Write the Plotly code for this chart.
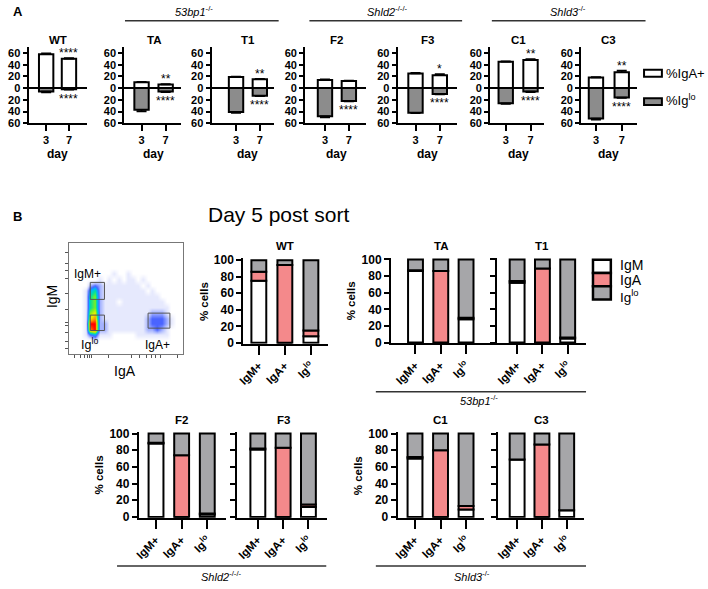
import plotly.graph_objects as go

W, H = 708, 589
FONT = "Liberation Sans, Arial, Helvetica, sans-serif"

# ---------------- Panel A data ----------------
a_clones = ["WT", "TA", "T1", "F2", "F3", "C1", "C3"]
a_day_labels = ["3", "7"]
a_iga_day3 = [58, 10, 19, 14, 25, 45, 18]
a_iga_day7 = [50, 6, 15, 12, 22, 48, 27]
a_iglo_day3 = [6, 37, 41, 48, 42, 26, 52]
a_iglo_day7 = [2, 6, 13, 22, 10, 6, 16]
a_iga_err3 = [1.5, 1, 1, 1, 1, 1, 1]
a_iga_err7 = [1.5, 1, 1, 1, 2, 1.5, 3]
a_iglo_err3 = [1.5, 3, 1.5, 2, 1, 1, 2]
a_iglo_err7 = [1, 1, 1, 1, 1, 1, 1]
a_stars_up = ["****", "**", "**", "", "*", "**", "**"]
a_stars_down = ["****", "****", "****", "****", "****", "****", "****"]
a_yticks = [60, 40, 20, 0, -20, -40, -60]
a_yticklabels = ["60", "40", "20", "0", "20", "40", "60"]

# ---------------- Panel B data ----------------
b_clones = ["WT", "TA", "T1", "F2", "F3", "C1", "C3"]
b_gate_labels = ["IgM+", "IgA+", "Ig<sup>lo</sup>"]
b_igm = [[75, 0, 8], [86, 0, 28], [72, 0, 5], [88, 0, 3], [81, 0, 12], [70, 0, 9], [69, 0, 8]]
b_iga = [[11, 94, 7], [1, 86, 2], [2, 89, 1], [1, 74, 1], [1, 83, 3], [2, 80, 4], [0, 87, 0]]
b_iglo = [[14, 6, 85], [13, 14, 70], [26, 11, 94], [11, 26, 96], [18, 17, 85], [28, 20, 87], [31, 13, 92]]
b_yticks = [0, 20, 40, 60, 80, 100]

# flow-cytometry density (rows top->bottom, 0 = no events, 9 = highest density)
flow_density_rows = [
    "000000000000000000000000",
    "000000000000000000000000",
    "000000000000000000000000",
    "000000000000000000000000",
    "000000000000000000000000",
    "000000000100100000000000",
    "000000101010110100000000",
    "000023211111111010000000",
    "000145211111111101000000",
    "000156211111111111100000",
    "000156211101111111110000",
    "000156211111111111111000",
    "000167211111111112221000",
    "000178211111111123332100",
    "000199221111111123332100",
    "000189221111111122321000",
    "000134111000001111111000",
    "000001000000000000000000",
    "000000000000000000000000",
    "000000000000000000000000",
]

# ---------------- helpers ----------------
def px(x):
    return x / W

def py(y):
    return 1 - y / H

def names(n):
    return ("x", "y", "xaxis", "yaxis") if n == 1 else (f"x{n}", f"y{n}", f"xaxis{n}", f"yaxis{n}")

fig = go.Figure()
layout_axes = {}
annotations = []
shapes = []

def ann(x, y, text, size=11, bold=False, italic=False, angle=0, xanchor="center", yanchor="middle", color="#000000"):
    annotations.append(dict(
        x=px(x), y=py(y), xref="paper", yref="paper", text=text, showarrow=False,
        xanchor=xanchor, yanchor=yanchor, textangle=angle,
        font=dict(family=FONT, size=size, color=color,
                  weight="bold" if bold else "normal",
                  style="italic" if italic else "normal")))

def hline(x0, x1, y, width=1.5, color="#333333"):
    shapes.append(dict(type="line", xref="paper", yref="paper", x0=px(x0), x1=px(x1),
                       y0=py(y), y1=py(y), line=dict(color=color, width=width)))

def box(x0, y0, x1, y1, fill, width=2, color="black"):
    shapes.append(dict(type="rect", xref="paper", yref="paper", x0=px(x0), x1=px(x1),
                       y0=py(y1), y1=py(y0), fillcolor=fill, line=dict(color=color, width=width)))

GRAY_A = "#8c8c8c"
GRAY_B = "#a6a6a9"
RED_B = "#f4898b"

# ---------------- Panel A ----------------
A_GEOM = [(22.7, 40.5, 63.5, 82), (119.3, 136.7, 161, 176.7), (207.3, 232, 256, 270.7),
          (301.7, 321.7, 345.8, 363), (395, 413, 437.5, 455), (488.3, 504, 529, 543),
          (580, 595, 621, 636.7)]
A_TOP, A_BOT = 42.9, 120.5

n = 0
for k, clone in enumerate(a_clones):
    n += 1
    xa, ya, xk, yk = names(n)
    x0, c3, c7, x1 = A_GEOM[k]
    sp = c7 - c3
    bw = 14.5 / sp
    fig.add_trace(go.Bar(
        x=[0, 1], y=[a_iga_day3[k], a_iga_day7[k]], width=bw, xaxis=xa, yaxis=ya,
        marker=dict(color="white", line=dict(color="black", width=2)),
        error_y=dict(type="data", symmetric=False, array=[a_iga_err3[k], a_iga_err7[k]],
                     arrayminus=[0, 0], color="black", thickness=1.5, width=5),
        showlegend=False, hoverinfo="skip"))
    fig.add_trace(go.Bar(
        x=[0, 1], y=[-a_iglo_day3[k], -a_iglo_day7[k]], width=bw, xaxis=xa, yaxis=ya,
        marker=dict(color=GRAY_A, line=dict(color="black", width=2)),
        error_y=dict(type="data", symmetric=False, array=[0, 0],
                     arrayminus=[a_iglo_err3[k], a_iglo_err7[k]], color="black", thickness=1.5, width=5),
        showlegend=False, hoverinfo="skip"))
    layout_axes[xk] = dict(
        domain=[px(x0), px(x1)], range=[-(c3 - x0) / sp, 1 + (x1 - c7) / sp], anchor=ya,
        showline=True, linewidth=2, linecolor="black", ticks="outside", ticklen=6, tickwidth=2,
        tickcolor="black", tickvals=[0, 1], ticktext=a_day_labels, showgrid=False, zeroline=False,
        tickfont=dict(family=FONT, size=11, weight="bold", color="black"), fixedrange=True)
    layout_axes[yk] = dict(
        domain=[py(A_BOT), py(A_TOP)], range=[-60, 70], anchor=xa,
        showline=True, linewidth=2, linecolor="black", ticks="outside", ticklen=4, tickwidth=2,
        tickcolor="black", tickvals=a_yticks, ticktext=a_yticklabels, showgrid=False,
        zeroline=True, zerolinewidth=2, zerolinecolor="black",
        tickfont=dict(family=FONT, size=11, weight="bold", color="black"), fixedrange=True)
    mid = (c3 + c7) / 2
    ann(mid, 36, clone, size=11.5, bold=True)
    ann(mid, 152, "day", size=12, bold=True)
    # significance stars, placed in data coordinates
    if a_stars_up[k]:
        annotations.append(dict(x=1, y=a_iga_day7[k] + a_iga_err7[k] + 8, xref=xa, yref=ya,
                                text=a_stars_up[k], showarrow=False,
                                font=dict(family=FONT, size=12, color="#000000")))
    annotations.append(dict(x=1, y=-a_iglo_day7[k] - a_iglo_err7[k] - 15, xref=xa, yref=ya,
                            text=a_stars_down[k], showarrow=False,
                            font=dict(family=FONT, size=12, color="#000000")))

# panel A group headers
hline(120, 275, 16)
ann(190, 6, "<i>53bp1</i><sup>-/-</sup>", size=11)
hline(306, 460, 16)
ann(385, 6, "<i>Shld2</i><sup>-/-/-</sup>", size=11)
hline(490, 645, 16)
ann(567, 6, "<i>Shld3</i><sup>-/-</sup>", size=11)

# panel A legend
box(643.5, 66, 661.5, 73, "white", width=2)
ann(664, 69.5, "%IgA+", size=13, xanchor="left")
box(643.5, 95, 661.5, 102, GRAY_A, width=2)
ann(664, 97, "%Ig<sup>lo</sup>", size=13, xanchor="left")

ann(5, 7, "A", size=13, bold=True, xanchor="left")
ann(5, 216, "B", size=13, bold=True, xanchor="left")

# ---------------- Panel B: flow plot ----------------
n += 1
xa, ya, xk, yk = names(n)
FX0, FX1, FY0, FY1 = 63.3, 178.5, 243, 356
ncols = len(flow_density_rows[0])
nrows = len(flow_density_rows)
z = [[int(ch) for ch in row] for row in flow_density_rows]
xs = [(j + 0.5) / ncols for j in range(ncols)]
ys = [1 - (i + 0.5) / nrows for i in range(nrows)]
fig.add_trace(go.Heatmap(
    z=z, x=xs, y=ys, xaxis=xa, yaxis=ya, zmin=0, zmax=9, zsmooth="best", showscale=False,
    hoverinfo="skip",
    colorscale=[[0, "#ffffff"], [1 / 9, "#e6e9fd"], [2 / 9, "#a4b2ff"], [3 / 9, "#4a64ff"],
                [4 / 9, "#00b4ff"], [5 / 9, "#00e0a0"], [6 / 9, "#7ef020"], [7 / 9, "#f2f000"],
                [8 / 9, "#ff8a00"], [1, "#ff0000"]]))
layout_axes[xk] = dict(domain=[px(FX0), px(FX1)], range=[0, 1], anchor=ya, showline=True,
                       mirror=True, linewidth=1, linecolor="#777777", ticks="outside", ticklen=3,
                       tickcolor="#555555",
                       tickvals=[0.05, 0.1, 0.14, 0.16, 0.18, 0.2, 0.35, 0.55, 0.62, 0.68, 0.72, 0.76, 0.8, 0.95],
                       showticklabels=False, showgrid=False, zeroline=False, fixedrange=True)
layout_axes[yk] = dict(domain=[py(FY1), py(FY0)], range=[0, 1], anchor=xa, showline=True,
                       mirror=True, linewidth=1, linecolor="#777777", ticks="outside", ticklen=3,
                       tickcolor="#555555",
                       tickvals=[0.05, 0.12, 0.2, 0.26, 0.29, 0.4, 0.55, 0.68, 0.76, 0.82, 0.92],
                       showticklabels=False, showgrid=False, zeroline=False, fixedrange=True)
# gates
for gx0, gy0, gx1, gy1 in [(85, 282.7, 99.3, 300), (85, 316, 99.3, 331.7), (143.3, 314, 165.3, 329.3)]:
    box(gx0, gy0, gx1, gy1, "rgba(0,0,0,0)", width=1, color="#555555")
ann(82, 274, "IgM+", size=12)
ann(84, 345, "Ig<sup>lo</sup>", size=12.5)
ann(153, 346, "IgA+", size=12)
ann(47, 297, "IgM", size=14, angle=-90)
ann(120, 373, "IgA", size=14)

ann(275, 213, "Day 5 post sort", size=21)

# ---------------- Panel B: stacked bars ----------------
B_GEOM = [(239.3, 255, 307.5, 325, 260, 344.3), (388.3, 413, 464, 493, 259.3, 344),
          (495, 515.5, 566.5, 585, 259.3, 344), (134, 151.3, 203, 221.7, 436.7, 521.7),
          (232.7, 254, 305, 323.3, 436.7, 521.7), (395, 412.5, 464, 481.7, 436.7, 521.7),
          (496.7, 515.5, 565.5, 583, 436.7, 521.7)]
B_LABELLED = [True, True, False, True, False, True, False]

for k, clone in enumerate(b_clones):
    n += 1
    xa, ya, xk, yk = names(n)
    x0, c0, c2, x1, y100, y0 = B_GEOM[k]
    sp = (c2 - c0) / 2
    bw = 15 / sp
    unit = (y0 - y100) / 100
    for vals, col in [(b_igm[k], "white"), (b_iga[k], RED_B), (b_iglo[k], GRAY_B)]:
        fig.add_trace(go.Bar(x=[0, 1, 2], y=vals, width=bw, xaxis=xa, yaxis=ya,
                             marker=dict(color=col, line=dict(color="black", width=2)),
                             showlegend=False, hoverinfo="skip"))
    layout_axes[xk] = dict(
        domain=[px(x0), px(x1)], range=[-(c0 - x0) / sp, 2 + (x1 - c2) / sp], anchor=ya,
        showline=True, linewidth=2, linecolor="black", ticks="outside", ticklen=9, tickwidth=2,
        tickcolor="black", tickvals=[0, 1, 2], ticktext=b_gate_labels, tickangle=-45,
        showgrid=False, zeroline=False,
        tickfont=dict(family=FONT, size=11.5, weight="bold", color="black"), fixedrange=True)
    layout_axes[yk] = dict(
        domain=[py(y0 + unit * 1), py(y100 - unit * 2)], range=[-1, 102], anchor=xa,
        showline=True, linewidth=2, linecolor="black", ticks="outside", ticklen=5, tickwidth=2,
        tickcolor="black", tickvals=b_yticks, showticklabels=B_LABELLED[k], showgrid=False,
        zeroline=False, tickfont=dict(family=FONT, size=12, weight="bold", color="black"),
        fixedrange=True)
    ann((c0 + c2) / 2, y100 - 14, clone, size=11.5, bold=True)
    if B_LABELLED[k]:
        ann(x0 - 40, (y0 + y100) / 2, "% cells", size=11.5, bold=True, angle=-90)

# panel B group lines
hline(373, 585, 394)
ann(477, 403, "<i>53bp1</i><sup>-/-</sup>", size=11)
hline(112, 323, 571.7)
ann(217, 582, "<i>Shld2</i><sup>-/-/-</sup>", size=11)
hline(373, 585, 571.7)
ann(470, 582, "<i>Shld3</i><sup>-/-</sup>", size=11)

# panel B legend
box(592, 259.5, 610, 273, "white", width=2.5)
box(592, 273, 610, 286.5, RED_B, width=2.5)
box(592, 286.5, 610, 300, GRAY_B, width=2.5)
ann(617, 265, "IgM", size=14, xanchor="left")
ann(617, 280.5, "IgA", size=14, xanchor="left")
ann(617, 296.5, "Ig<sup>lo</sup>", size=13.5, xanchor="left")

fig.update_layout(
    width=W, height=H, autosize=False, margin=dict(l=0, r=0, t=0, b=0, pad=0),
    paper_bgcolor="white", plot_bgcolor="rgba(0,0,0,0)", barmode="relative",
    font=dict(family=FONT, color="black"), showlegend=False,
    annotations=annotations, shapes=shapes, **layout_axes)

fig.write_html("out.html", config={"displayModeBar": False},
               post_script="document.body.style.margin='0';")
